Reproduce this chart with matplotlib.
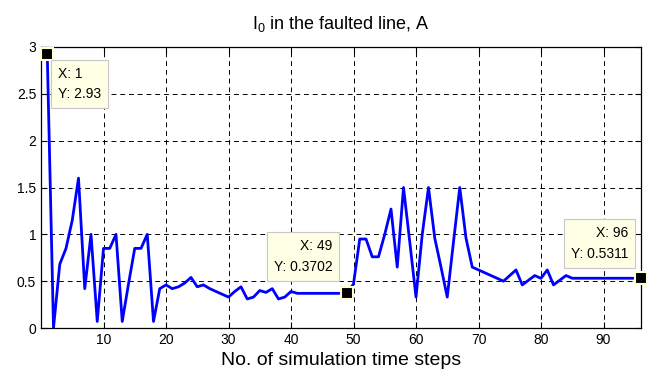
import matplotlib
matplotlib.use("Agg")
import matplotlib.pyplot as plt

plt.rcParams['font.family'] = ['Liberation Sans', 'DejaVu Sans']
plt.rcParams['mathtext.default'] = 'regular'

# I0 in the faulted line, one value per simulation time step (1..96)
steps = list(range(1, 97))
i0 = [2.93, 0.0, 0.68, 0.85, 1.15, 1.6, 0.42, 1.0, 0.07, 0.85,
      0.85, 1.0, 0.07, 0.47, 0.85, 0.85, 1.0, 0.07, 0.42, 0.46,
      0.42, 0.44, 0.48, 0.54, 0.44, 0.46, 0.42, 0.39, 0.36, 0.33,
      0.39, 0.44, 0.31, 0.33, 0.40, 0.38, 0.42, 0.31, 0.33, 0.39,
      0.37, 0.37, 0.37, 0.37, 0.37, 0.37, 0.37, 0.37, 0.3702, 0.47,
      0.95, 0.95, 0.76, 0.76, 1.0, 1.27, 0.65, 1.5, 0.92, 0.33,
      1.0, 1.5, 0.96, 0.65, 0.33, 0.92, 1.5, 0.96, 0.65, 0.62,
      0.59, 0.56, 0.53, 0.50, 0.56, 0.62, 0.46, 0.51, 0.56, 0.53,
      0.62, 0.46, 0.51, 0.56, 0.5311, 0.5311, 0.5311, 0.5311, 0.5311, 0.5311,
      0.5311, 0.5311, 0.5311, 0.5311, 0.5311, 0.5311]

# data cursors: (step, label, offset in pixels, alignment)
tips = [(1, "X: 1\nY: 2.93", (11, -13), 'left'),
        (49, "X: 49\nY: 0.3702", (-15, 54), 'right'),
        (96, "X: 96\nY: 0.5311", (-13, 52), 'right')]

xticks = list(range(10, 100, 10))
yticks = [0, 0.5, 1, 1.5, 2, 2.5, 3]
yticklabels = ["0", "0.5", "1", "1.5", "2", "2.5", "3"]

fig = plt.figure(figsize=(6.47, 3.83), dpi=100)
ax = fig.add_axes([41 / 647, 1 - 328 / 383, 600 / 647, 281 / 383])

ax.plot(steps, i0, color='#0000ff', linewidth=2, zorder=3)

ax.set_xlim(0, 96)
ax.set_ylim(0, 3)
ax.set_xticks(xticks)
ax.set_yticks(yticks)
ax.set_yticklabels(yticklabels)
ax.tick_params(direction='in', top=True, right=True, labelsize=10,
               length=4, width=0.8, colors='black')
ax.grid(True, color='black', linestyle=(0, (5, 4)), linewidth=0.7)
for s in ax.spines.values():
    s.set_linewidth(0.9)

ax.set_title("I$_0$ in the faulted line, A", fontsize=13, pad=13)
ax.set_xlabel("No. of simulation time steps", fontsize=14, labelpad=4)

for x, label, off, ha in tips:
    y = i0[x - 1]
    ax.plot([x], [y], marker='s', markersize=8, color='black',
            markeredgecolor='#ffffd8', markeredgewidth=1.5,
            clip_on=False, zorder=5)
    ax.annotate(label, xy=(x, y), xytext=off, textcoords='offset pixels',
                ha=ha, va='top', fontsize=10, linespacing=1.6, zorder=6,
                bbox=dict(boxstyle='square,pad=0.5', facecolor='#ffffe6',
                          edgecolor='#c8c8c8', linewidth=0.8))

fig.savefig("out.png", dpi=100)
